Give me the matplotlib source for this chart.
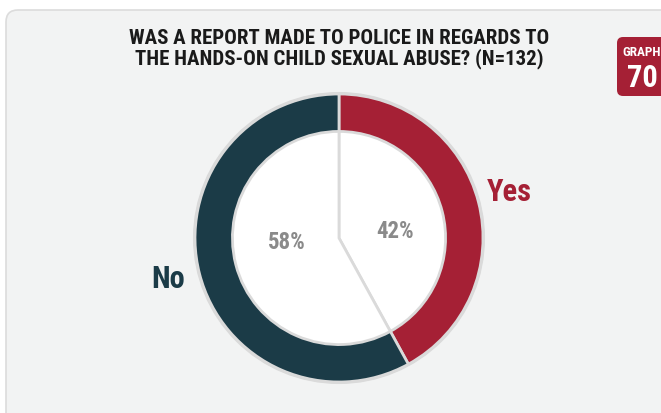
import matplotlib.pyplot as plt
import matplotlib.patches as patch
from matplotlib import font_manager

# data
labels = ['Yes', 'No']
shares = [42, 58]
colors = ['#a52035', '#1b3b47']
title = 'WAS A REPORT MADE TO POLICE IN REGARDS TO\nTHE HANDS-ON CHILD SEXUAL ABUSE? (N=132)'
graph_no = '70'

names = {f.name for f in font_manager.fontManager.ttflist}
font = ['Roboto Condensed', 'DejaVu Sans Condensed', 'Roboto', 'DejaVu Sans']
font = [f for f in font if f in names]
plt.rcParams['font.family'] = font

W, H = 661, 414
fig = plt.figure(figsize=(W / 100, H / 100), dpi=100)
ax = fig.add_axes([0, 0, 1, 1])

# card background
card = patch.FancyBboxPatch((6, -40), 700, H - 10 + 40 - 1, boxstyle='round,pad=0,rounding_size=12',
                            facecolor='#f2f3f3', edgecolor='#dcdcdc', linewidth=1.2)
ax.add_patch(card)

# badge
badge = patch.FancyBboxPatch((617, H - 97), 60, 59, boxstyle='round,pad=0,rounding_size=6',
                             facecolor='#a52035', edgecolor='none')
ax.add_patch(badge)
ax.text(622, H - 52, 'GRAPH', color='white', fontsize=9.5, fontweight='bold', va='center', ha='left')
ax.text(627, H - 78, graph_no, color='white', fontsize=22, fontweight='bold', va='center', ha='left')

# title
ax.text(339, H - 49, title, ha='center', va='center', fontsize=15, fontweight='bold',
        color='#1a1a1a', linespacing=1.02)

# donut
cx, cy, r = 339, H - 239, 144
ax.pie(shares, colors=colors, startangle=90, counterclock=False, center=(cx, cy), radius=r,
       wedgeprops=dict(edgecolor='#dadada', linewidth=2))
ax.pie(shares, colors=['white', 'white'], startangle=90, counterclock=False, center=(cx, cy),
       radius=r * 0.74, wedgeprops=dict(edgecolor='#dadada', linewidth=2))
ax.add_patch(patch.Circle((cx, cy), r + 1, facecolor='none', edgecolor='#dadada', linewidth=1.5))

# percent labels inside
ax.text(395, H - 232, f'{shares[0]}%', ha='center', va='center', fontsize=16.5, fontweight='bold', color='#8a8a8a')
ax.text(287, H - 243, f'{shares[1]}%', ha='center', va='center', fontsize=16.5, fontweight='bold', color='#8a8a8a')

# category labels
ax.text(509, H - 192, labels[0], ha='center', va='center', fontsize=22, fontweight='bold', color=colors[0])
ax.text(168, H - 279, labels[1], ha='center', va='center', fontsize=22, fontweight='bold', color=colors[1])

ax.set_xlim(0, W)
ax.set_ylim(0, H)
ax.set_aspect('auto')
ax.axis('off')

fig.savefig('out.png', dpi=100, facecolor='white')
